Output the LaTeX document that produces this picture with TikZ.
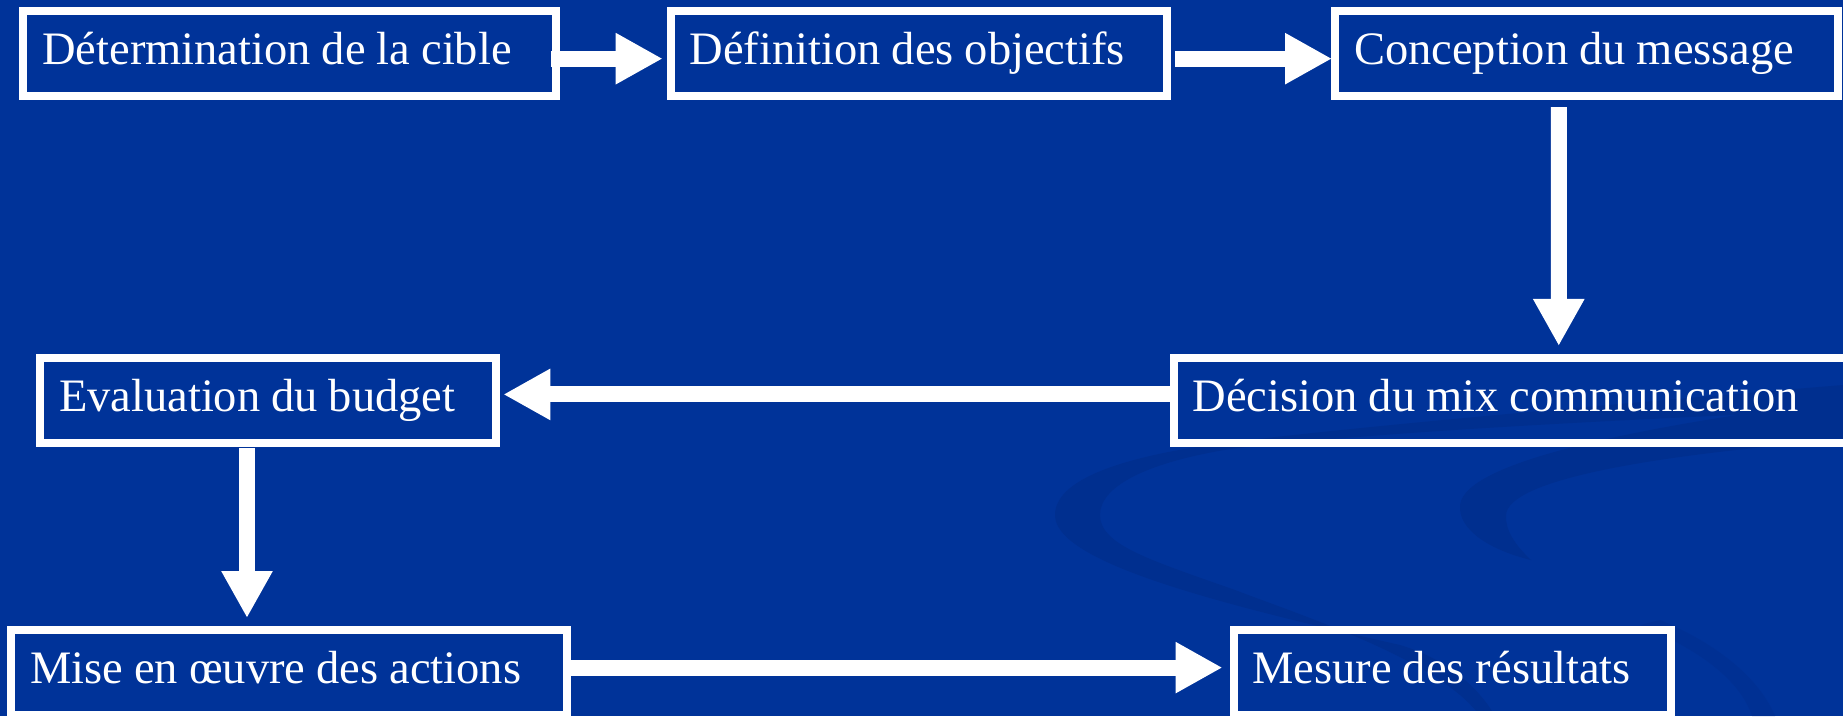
\documentclass[tikz,border=0pt]{standalone}
\usepackage{fontspec}
\setmainfont{Liberation Serif}
\usetikzlibrary{arrows.meta}
\definecolor{bgblue}{HTML}{003399}
\definecolor{swirlblue}{HTML}{002F8F}
\newcommand\boxtxt[2]{\makebox[#1][l]{\spaceskip=11pt plus 2pt minus 1pt\relax #2}}
\begin{document}
\begin{tikzpicture}[x=1pt,y=-1pt,
  box/.style={draw=white, line width=8pt, outer sep=0pt, minimum height=84.7pt,
    inner xsep=19pt, inner ysep=0pt, text height=32pt, text depth=9.4pt,
    text=white, font=\fontsize{46.5}{50}\selectfont, anchor=center},
  flow/.style={draw=white, line width=16pt, -{Triangle[length=47pt,width=48pt]}}]
\useasboundingbox (0,0) rectangle (1843,716);
\fill[bgblue] (0,0) rectangle (1843,716);
% background swirls
\fill[swirlblue] (1843,385) .. controls (1600,405) and (1320,430) .. (1210,445)
  .. controls (1120,458) and (1055,480) .. (1055,515)
  .. controls (1055,560) and (1200,600) .. (1400,645)
  .. controls (1450,660) and (1480,690) .. (1495,716) -- (1480,716)
  .. controls (1440,660) and (1300,615) .. (1235,590)
  .. controls (1150,560) and (1100,545) .. (1100,515)
  .. controls (1100,485) and (1150,462) .. (1230,449)
  .. controls (1400,430) and (1620,420) .. (1843,410) -- cycle;
\fill[swirlblue] (1843,400) .. controls (1650,425) and (1465,460) .. (1460,505)
  .. controls (1458,530) and (1490,550) .. (1531,560)
  .. controls (1515,545) and (1505,530) .. (1506,515)
  .. controls (1508,480) and (1650,455) .. (1843,440) -- cycle;
\fill[swirlblue, opacity=0.6] (1640,625) .. controls (1700,650) and (1740,680) .. (1752,716)
  -- (1775,716) .. controls (1760,680) and (1720,645) .. (1660,620) -- cycle;
% boxes
\node[box, minimum width=532.7pt] (b1) at (289.65,53.65) {\boxtxt{494.7pt}{Détermination de la cible}};
\node[box, minimum width=496.3pt] (b2) at (918.85,53.65) {\boxtxt{458.3pt}{Définition des objectifs}};
\node[box, minimum width=503pt] (b3) at (1586.5,53.65) {\boxtxt{465pt}{Conception du message}};
\node[box, minimum width=692.5pt] (b4) at (1519.75,400.6) {\boxtxt{654.5pt}{Décision du mix communication}};
\node[box, minimum width=456pt] (b5) at (268,400.6) {\boxtxt{418pt}{Evaluation du budget}};
\node[box, minimum width=555.7pt] (b6) at (289.15,672.35) {\boxtxt{517.7pt}{Mise en œuvre des actions}};
\node[box, minimum width=437.5pt] (b7) at (1452.25,672.35) {\boxtxt{399.5pt}{Mesure des résultats}};
% connectors
\draw[flow] ([xshift=-5pt,yshift=-5pt]b1.east) -- ([xshift=-8pt,yshift=-5pt]b2.west);
\draw[flow] ([xshift=8pt,yshift=-5pt]b2.east) -- ([xshift=-3pt,yshift=-5pt]b3.west);
\draw[flow] ([xshift=-27.7pt,yshift=-11pt]b3.south) -- ([xshift=39pt,yshift=12.3pt]b4.north);
\draw[flow] ([yshift=6.2pt]b4.west) -- ([xshift=7.3pt,yshift=6.2pt]b5.east);
\draw[flow] ([xshift=-21pt,yshift=-5pt]b5.south) -- ([xshift=-42.15pt,yshift=12pt]b6.north);
\draw[flow] ([xshift=4pt,yshift=4.75pt]b6.east) -- ([xshift=-11pt,yshift=4.75pt]b7.west);
\end{tikzpicture}
\end{document}
